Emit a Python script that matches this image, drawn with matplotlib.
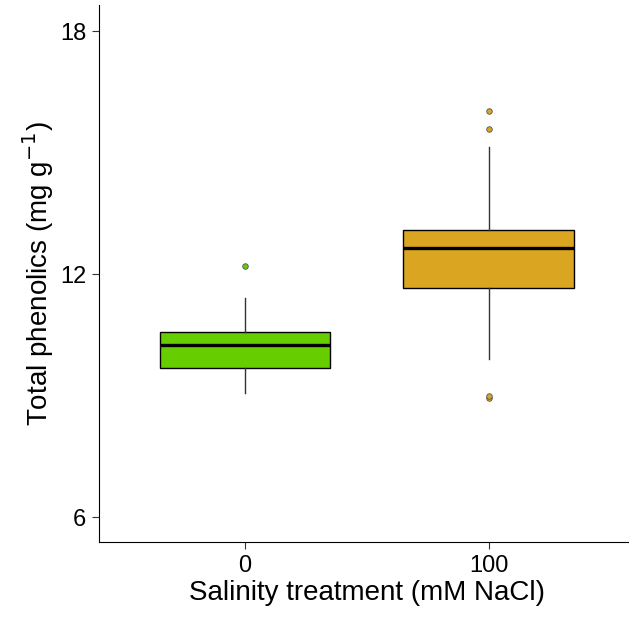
import matplotlib.pyplot as plt

plt.rcParams['font.family'] = ['Liberation Sans', 'DejaVu Sans']

labels = ['0', '100']
q1 = [9.69, 11.65]
med = [10.25, 12.66]
q3 = [10.58, 13.10]
whislo = [9.07, 9.90]
whishi = [11.42, 15.14]
fliers = [[12.21], [16.03, 15.58, 8.95, 8.99]]
colors = ['#66CD00', '#DAA520']

stats = []
for i in range(len(labels)):
    stats.append(dict(label=labels[i], q1=q1[i], med=med[i], q3=q3[i],
                      whislo=whislo[i], whishi=whishi[i], fliers=fliers[i]))

fig = plt.figure(figsize=(6.29, 6.17), dpi=100)
ax = fig.add_axes([99/629, (617-542.3)/617, 535.6/629, (542.3-5)/617])

bp = ax.bxp(stats, positions=[1, 2], widths=0.7, patch_artist=True,
            showcaps=False,
            boxprops=dict(edgecolor='black', linewidth=1.0),
            medianprops=dict(color='black', linewidth=2.4),
            whiskerprops=dict(color='#333333', linewidth=1.0))
for i, box in enumerate(bp['boxes']):
    box.set_facecolor(colors[i])
    fl = bp['fliers'][i]
    fl.set(marker='o', markersize=4, markerfacecolor=colors[i],
           markeredgecolor='#555555', markeredgewidth=0.6)

ax.set_xlim(0.4, 2.6)
ax.set_ylim(5.38, 18.65)
ax.set_yticks([6, 12, 18])
ax.set_xticks([1, 2])
ax.set_xticklabels(labels)
ax.spines['top'].set_visible(False)
ax.spines['right'].set_visible(False)
ax.tick_params(labelsize=17, length=5, width=0.8, color='#333333', pad=4)
ax.set_xlabel('Salinity treatment (mM NaCl)', fontsize=20, labelpad=2)
ax.set_ylabel('Total phenolics (mg g$^{-1}$)', fontsize=20, labelpad=3)

fig.savefig('out.png', dpi=100)
